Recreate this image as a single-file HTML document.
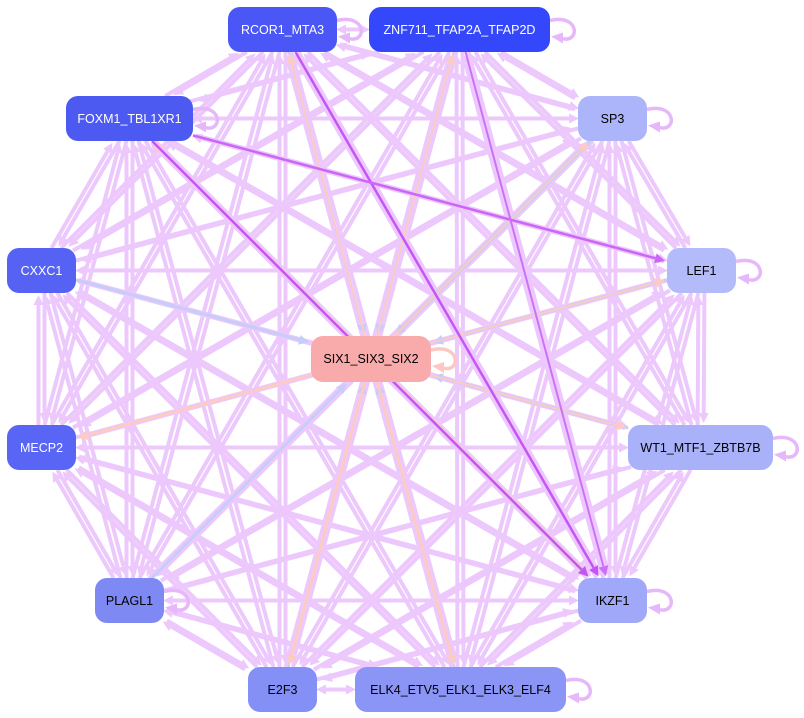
<!DOCTYPE html>
<html><head><meta charset="utf-8"><style>
html,body{margin:0;padding:0;background:#fff;}
#w{position:relative;width:804px;height:718px;overflow:hidden;font-family:"Liberation Sans",Arial,sans-serif;}
svg{position:absolute;left:0;top:0;}
.n{position:absolute;border-radius:12px;display:flex;align-items:center;justify-content:center;font-size:12.5px;color:#000;}
.d{color:#fff;}
</style></head><body><div id="w">
<svg id="s" width="804" height="718"></svg>
<div class="n d" style="left:228px;top:7px;width:109px;height:45px;background:#4a56f6">RCOR1_MTA3</div>
<div class="n d" style="left:369px;top:7px;width:181px;height:45px;background:#3547fb">ZNF711_TFAP2A_TFAP2D</div>
<div class="n d" style="left:66px;top:96px;width:127px;height:45px;background:#4d5af2">FOXM1_TBL1XR1</div>
<div class="n" style="left:578px;top:96px;width:69px;height:45px;background:#acb5f9">SP3</div>
<div class="n d" style="left:7px;top:248px;width:69px;height:45px;background:#5562f4">CXXC1</div>
<div class="n" style="left:667px;top:248px;width:69px;height:45px;background:#b3bbfb">LEF1</div>
<div class="n" style="left:311px;top:336px;width:120px;height:46px;background:#f9aaaa">SIX1_SIX3_SIX2</div>
<div class="n d" style="left:7px;top:425px;width:69px;height:45px;background:#5865f5">MECP2</div>
<div class="n" style="left:628px;top:425px;width:145px;height:45px;background:#a9b1f9">WT1_MTF1_ZBTB7B</div>
<div class="n" style="left:95px;top:578px;width:69px;height:45px;background:#7f89f4">PLAGL1</div>
<div class="n" style="left:578px;top:578px;width:69px;height:45px;background:#a0a8f9">IKZF1</div>
<div class="n" style="left:248px;top:667px;width:69px;height:45px;background:#8590f6">E2F3</div>
<div class="n" style="left:355px;top:667px;width:211px;height:45px;background:#8a95f6">ELK4_ETV5_ELK1_ELK3_ELF4</div>
</div>
<script>
var N={R:[228,7,109,45],Z:[369,7,181,45],F:[66,96,127,45],S:[578,96,69,45],C:[7,248,69,45],L:[667,248,69,45],X:[311,336,120,46],M:[7,425,69,45],W:[628,425,145,45],P:[95,578,69,45],I:[578,578,69,45],E:[248,667,69,45],K:[355,667,211,45]};
var s=document.getElementById('s'),h='';
function bd(n,dx,dy){var b=N[n],hw=b[2]/2,hh=b[3]/2,t=Math.min(dx?hw/Math.abs(dx):1e9,dy?hh/Math.abs(dy):1e9);return t;}
function edge(a,b,col,w,off){var A=N[a],B=N[b];var ax=A[0]+A[2]/2+(off||0),ay=A[1]+A[3]/2,bx=B[0]+B[2]/2+(off||0),by=B[1]+B[3]/2;var dx=bx-ax,dy=by-ay,L=Math.hypot(dx,dy),ux=dx/L,uy=dy/L;var t1=bd(a,ux,uy),t2=bd(b,ux,uy);var sx=ax+ux*t1,sy=ay+uy*t1,ex=bx-ux*(t2+2),ey=by-uy*(t2+2);var hx=ex-ux*10,hy=ey-uy*10,px=-uy*5,py=ux*5;
h+='<line x1="'+sx+'" y1="'+sy+'" x2="'+hx+'" y2="'+hy+'" stroke="'+col+'" stroke-width="'+w+'"/>';
h+='<polygon points="'+ex+','+ey+' '+(hx+px)+','+(hy+py)+' '+(hx-px)+','+(hy-py)+'" fill="'+col+'"/>';}
function loop(n,col){var b=N[n],x=b[0]+b[2],cy=b[1]+b[3]/2;
h+='<path d="M'+(x)+','+(cy-9)+' C'+(x+30)+','+(cy-16)+' '+(x+30)+','+(cy+14)+' '+(x+12)+','+(cy+9)+'" fill="none" stroke="'+col+'" stroke-width="3.5"/>';
h+='<polygon points="'+(x+1)+','+(cy+7)+' '+(x+13)+','+(cy+3)+' '+(x+13)+','+(cy+14)+'" fill="'+col+'"/>';}
var O=['R','Z','F','S','C','L','M','W','P','I','E','K'];
var lc='#ecc8fc';
for(var i=0;i<O.length;i++)for(var j=0;j<O.length;j++)if(i!=j){edge(O[i],O[j],lc,4,(i<j?3:-3));}
var bl='#c5cdf8',pk='#fccbc4',dp='#c655f5';
edge('C','X',bl,3);edge('P','X',bl,3);edge('S','X',bl,4);edge('L','X',bl,3);edge('W','X',bl,3);edge('Z','X',bl,2);edge('R','X',bl,2);edge('K','X',bl,2);edge('E','X',bl,2);
edge('X','F',pk,3);edge('X','M',pk,3);edge('X','I',pk,3);edge('X','L',pk,2);edge('X','S',pk,2);edge('X','E',pk,3);edge('X','K',pk,3);edge('X','R',pk,2);edge('X','Z',pk,2);edge('X','W',pk,2);
edge('R','I',dp,2.5);edge('F','I',dp,2.5);edge('F','L','#cc66f8',2.5);edge('Z','I','#cc70f8',2);
['Z','S','L','W','I','K','P','R','F'].forEach(function(n){loop(n,'#e6b8fa');});
loop('X','#fcc8c4');
s.innerHTML=h;
</script>
</body></html>
